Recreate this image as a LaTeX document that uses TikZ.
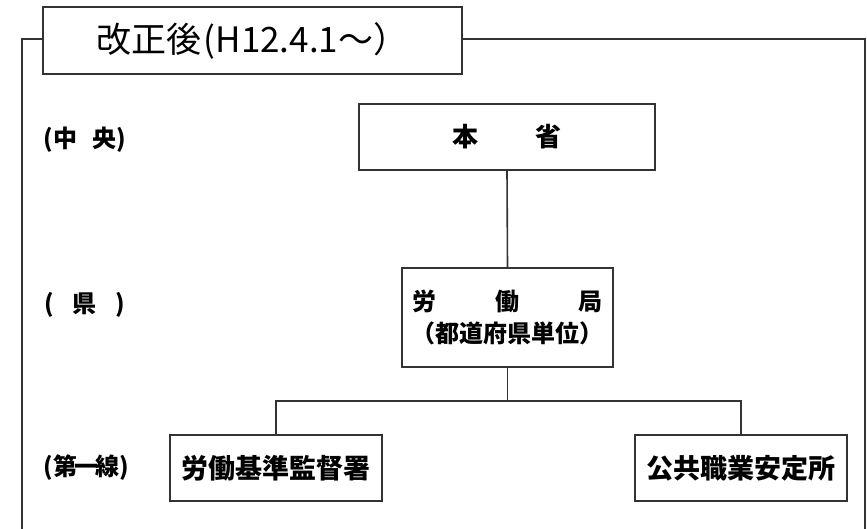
\documentclass[tikz,border=0pt]{standalone}
\usepackage{fontspec}
\newfontfamily\jp{Noto Sans CJK JP}
\tikzset{
  ln/.style={draw=black!80, line width=1.6pt},
  orgbox/.style={ln, fill=white, inner sep=0pt, font=\jp\bfseries\fontsize{27}{30}\selectfont, text=black},
  titlebox/.style={ln, fill=white, inner sep=0pt, minimum width=419pt, minimum height=67pt, font=\jp\fontsize{35}{40}\selectfont, text=black},
  lvl/.style={inner sep=0pt, font=\jp\bfseries\fontsize{24}{28}\selectfont, text=black}
}
\begin{document}
\begin{tikzpicture}[x=1pt,y=-1pt]
\useasboundingbox (0,0) rectangle (867,529);
\clip (0,0) rectangle (867,529);
\fill[white] (0,0) rectangle (867,529);
% outer frame
\draw[ln] (22,560) -- (22,39) -- (865,39) -- (865,560);
% title
\node[titlebox] (title) at (252.5,40.5) {改正後\kern2pt(H12.4.1～）};
% level labels
\node[lvl] (lc) at (85,140) {(中\hspace{16pt}央)};
\node[lvl] (lp) at (85,305) {(\hspace{19pt}県\hspace{19pt})};
\node[lvl] (lf) at (86,468) {(第\kern-3pt 一\kern-3pt 線)};
% boxes
\node[orgbox, minimum width=296pt, minimum height=66pt, font=\jp\bfseries\fontsize{26}{30}\selectfont] (hq) at (507,137) {\hbox to 110pt{本\hfil 省}};
\node[orgbox, minimum width=211pt, minimum height=99pt, align=center, font=\jp\bfseries\fontsize{24}{32}\selectfont] (bur) at (507.5,317.5) {\hbox to 190pt{労\hfil 働\hfil 局}\\（都道府県単位）};
\node[orgbox, minimum width=212pt, minimum height=66pt] (lsio) at (276,468) {労働基準監督署};
\node[orgbox, minimum width=212pt, minimum height=66pt] (pesa) at (741,468) {公共職業安定所};
% connectors
\coordinate (j) at (507.5,401);
\draw[ln] (hq.south) -- (bur.north);
\draw[ln] (bur.south) -- (j);
\draw[ln] (lsio.north) |- (j) -| (pesa.north);
\end{tikzpicture}
\end{document}
